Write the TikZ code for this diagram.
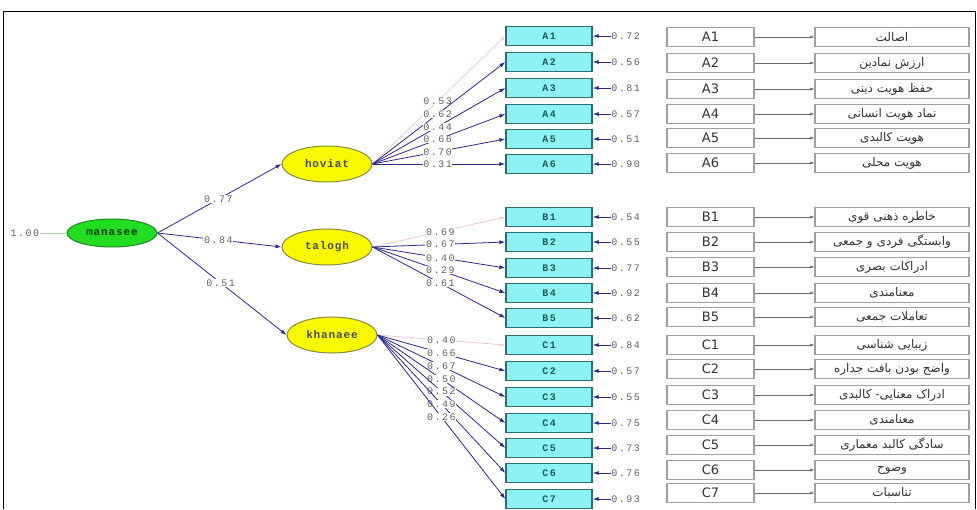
\documentclass[tikz,border=0pt]{standalone}
\usepackage{fontspec}
\usetikzlibrary{shapes.geometric,arrows.meta}
\TeXXeTstate=1
\newfontfamily\lisfont[LetterSpace=15]{Liberation Mono}
\newfontfamily\latfont[LetterSpace=8]{Liberation Mono}
\newfontfamily\fafont[Script=Arabic]{DejaVu Sans}
\newfontfamily\codefont{DejaVu Sans}
\definecolor{navy}{HTML}{2A2A8C}
\definecolor{pinkline}{HTML}{F2C6D6}
\definecolor{greenfill}{HTML}{22DD22}
\definecolor{greendraw}{HTML}{1E8A1E}
\definecolor{yellowfill}{HTML}{F8F800}
\definecolor{yellowdraw}{HTML}{8A8A40}
\definecolor{cyanfill}{HTML}{8CF2F2}
\definecolor{cyandraw}{HTML}{2E6E72}
\definecolor{cyantext}{HTML}{1C5A5C}
\definecolor{numgray}{HTML}{606060}
\definecolor{boxgray}{HTML}{A0A0A0}
\begin{document}
\begin{tikzpicture}[x=1pt,y=-1pt,
  lat/.style={ellipse,draw,line width=1pt,minimum width=90pt,minimum height=36pt,inner sep=0pt,
    font=\latfont\bfseries\fontsize{11}{11}\selectfont,text=black!80},
  greenlat/.style={lat,fill=greenfill,draw=greendraw,minimum height=28pt,text=green!25!black},
  yellowlat/.style={lat,fill=yellowfill,draw=yellowdraw,text=black!70},
  obs/.style={rectangle,fill=cyanfill,draw=cyandraw,line width=1.3pt,minimum width=86pt,minimum height=19pt,
    inner sep=0pt,font=\lisfont\bfseries\fontsize{10}{10}\selectfont,text=cyantext},
  lbl/.style={font=\lisfont\fontsize{10}{10}\selectfont,text=numgray,inner sep=0.6pt},
  onlbl/.style={lbl,fill=white},
  path/.style={draw=navy,line width=0.8pt,-{Latex[length=6pt,width=4pt]}},
  fixpath/.style={draw=pinkline,line width=0.8pt,-{Latex[length=5pt,width=3pt]}},
  codebox/.style={rectangle,draw=boxgray,line width=1.2pt,minimum width=87pt,minimum height=19pt,inner sep=0pt,
    font=\codefont\fontsize{13}{13}\selectfont,text=black!80},
  itembox/.style={rectangle,draw=boxgray,line width=1.2pt,minimum width=154pt,minimum height=19pt,inner sep=0pt,
    font=\fafont\fontsize{12}{12}\selectfont,text=black!80},
  link/.style={draw=black!60,line width=0.6pt,-{Latex[length=4pt,width=3pt]}}]
\useasboundingbox (0,0) rectangle (977,509);
\fill[white] (0,0) rectangle (977,509);
% outer frame
\draw[line width=1.5pt] (3.5,509) -- (3.5,11.5) -- (975.5,11.5) -- (975.5,509);

% latent variables
\node[greenlat] (man) at (112,233) {manasee};
\node[yellowlat] (hov) at (327,164) {hoviat};
\node[yellowlat] (tal) at (327,247) {talogh};
\node[yellowlat] (kha) at (332,335) {khanaee};

\node[lbl] (var) at (25,233) {1.00};
\draw[draw=greendraw!40,line width=0.6pt] (var.east) -- (man.west);

\draw[path] (man.east) -- (hov.west) node[pos=0.49,onlbl] {0.77};
\draw[path] (man.east) -- (tal.west) node[pos=0.49,onlbl] {0.84};
\draw[path] (man.east) -- (kha.west) node[pos=0.49,onlbl] {0.51};

% observed indicators
\foreach \n/\y in {A1/36,A2/62,A3/88,A4/114,A5/139,A6/164,
                   B1/217,B2/242,B3/268,B4/293,B5/318,
                   C1/345,C2/371,C3/397,C4/423,C5/448,C6/473,C7/499}
  \node[obs] (\n) at (549,\y) {\n};

% error variances
\foreach \n/\v in {A1/0.72,A2/0.56,A3/0.81,A4/0.57,A5/0.51,A6/0.90,
                   B1/0.54,B2/0.55,B3/0.77,B4/0.92,B5/0.62,
                   C1/0.84,C2/0.57,C3/0.55,C4/0.75,C5/0.73,C6/0.76,C7/0.93}{
  \node[lbl,anchor=west] (e\n) at ([xshift=18pt]\n.east) {\v};
  \draw[path] (e\n.west) -- (\n.east);
}

% loadings
\draw[fixpath] (hov.east) -- (A1.west) node[pos=0.49,onlbl] {0.53};
\foreach \n/\v in {A2/0.62,A3/0.44,A4/0.66,A5/0.70,A6/0.31}
  \draw[path] (hov.east) -- (\n.west) node[pos=0.49,onlbl] {\v};
\draw[fixpath] (tal.east) -- (B1.west) node[pos=0.51,onlbl] {0.69};
\foreach \n/\v in {B2/0.67,B3/0.40,B4/0.29,B5/0.61}
  \draw[path] (tal.east) -- (\n.west) node[pos=0.51,onlbl] {\v};
\draw[fixpath] (kha.east) -- (C1.west) node[pos=0.5,onlbl] {0.40};
\foreach \n/\v in {C2/0.66,C3/0.67,C4/0.50,C5/0.52,C6/0.49,C7/0.26}
  \draw[path] (kha.east) -- (\n.west) node[pos=0.5,onlbl] {\v};

% legend of item codes
\foreach \n/\y/\t in {A1/37/اصالت,A2/63/ارزش نمادین,A3/89/حفظ هویت دینی,A4/114/نماد هویت انسانی,
                      A5/138/هویت کالبدی,A6/163/هویت محلی,
                      B1/217/خاطره ذهنی قوی,B2/242/وابستگی فردی و جمعی,B3/267/ادراکات بصری,
                      B4/293/معنامندی,B5/317/تعاملات جمعی,
                      C1/345/زیبایی شناسی,C2/369/واضح بودن بافت جداره,C3/395/ادراک معنایی- کالبدی,
                      C4/420/معنامندی,C5/445/سادگی کالبد معماری,C6/470/وضوح,C7/493/تناسبات}{
  \node[codebox] (k\n) at (710.5,\y) {\n};
  \node[itembox] (t\n) at (892,\y) {\beginR\t\endR};
  \draw[link] (k\n.east) -- (t\n.west);
}
\end{tikzpicture}
\end{document}
